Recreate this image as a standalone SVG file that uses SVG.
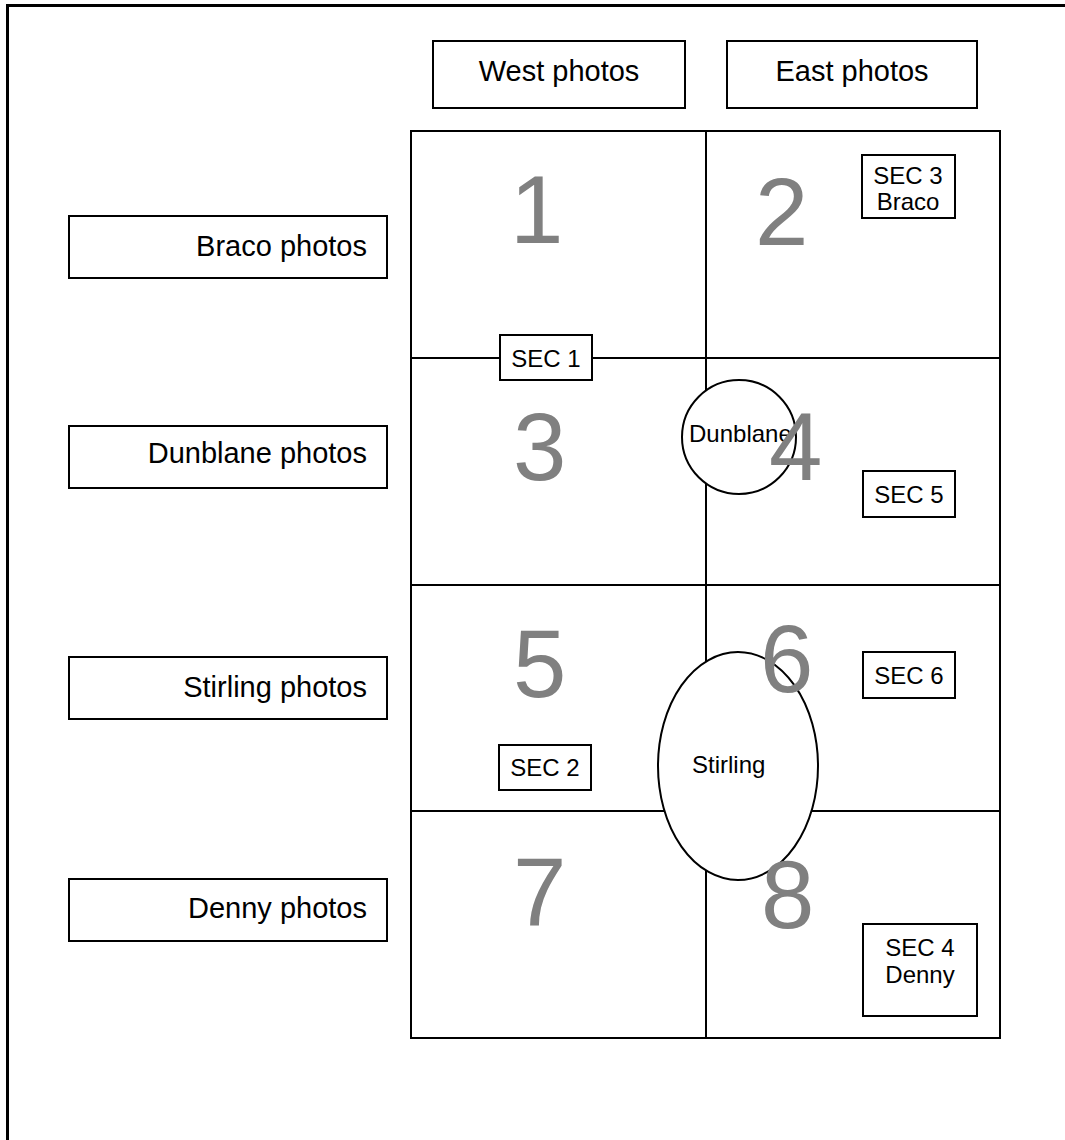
<svg xmlns="http://www.w3.org/2000/svg" width="1065" height="1140" viewBox="0 0 1065 1140">
<style>
.box{fill:#fff;stroke:#000;stroke-width:2}
.ln{fill:none;stroke:#000;stroke-width:2}
.big{font-family:"Liberation Sans",Arial,sans-serif;font-size:29px;fill:#000}
.sm{font-family:"Liberation Sans",Arial,sans-serif;font-size:24px;fill:#000}
.num{font-family:"Liberation Sans",Arial,sans-serif;font-size:96px;fill:#808080}
</style>
<rect width="1065" height="1140" fill="#fff"/>
<path d="M7.5,1140 V5.5 H1065" fill="none" stroke="#000" stroke-width="3"/>

<g id="grid">
<rect class="ln" x="411" y="131" width="589" height="907"/>
<line class="ln" x1="706" y1="131" x2="706" y2="1038"/>
<line class="ln" x1="411" y1="358" x2="1000" y2="358"/>
<line class="ln" x1="411" y1="585" x2="1000" y2="585"/>
<line class="ln" x1="411" y1="811" x2="1000" y2="811"/>
</g>

<g id="west-photos"><rect class="box" x="433" y="41" width="252" height="67"/><text class="big" x="559" y="81" text-anchor="middle">West photos</text></g>
<g id="east-photos"><rect class="box" x="727" y="41" width="250" height="67"/><text class="big" x="852" y="81" text-anchor="middle">East photos</text></g>

<g id="braco-photos"><rect class="box" x="69" y="216" width="318" height="62"/><text class="big" x="367" y="256" text-anchor="end">Braco photos</text></g>
<g id="dunblane-photos"><rect class="box" x="69" y="426" width="318" height="62"/><text class="big" x="367" y="463" text-anchor="end">Dunblane photos</text></g>
<g id="stirling-photos"><rect class="box" x="69" y="657" width="318" height="62"/><text class="big" x="367" y="697" text-anchor="end">Stirling photos</text></g>
<g id="denny-photos"><rect class="box" x="69" y="879" width="318" height="62"/><text class="big" x="367" y="918" text-anchor="end">Denny photos</text></g>

<g id="sec1"><rect class="box" x="500" y="335" width="92" height="45"/><text class="sm" x="546" y="367" text-anchor="middle">SEC 1</text></g>
<g id="sec3"><rect class="box" x="862" y="155" width="93" height="63"/><text class="sm" x="908" y="184" text-anchor="middle">SEC 3</text><text class="sm" x="908" y="210" text-anchor="middle">Braco</text></g>
<g id="sec5"><rect class="box" x="863" y="471" width="92" height="46"/><text class="sm" x="909" y="503" text-anchor="middle">SEC 5</text></g>
<g id="sec6"><rect class="box" x="863" y="652" width="92" height="46"/><text class="sm" x="909" y="684" text-anchor="middle">SEC 6</text></g>
<g id="sec2"><rect class="box" x="499" y="745" width="92" height="45"/><text class="sm" x="545" y="776" text-anchor="middle">SEC 2</text></g>
<g id="sec4"><rect class="box" x="863" y="924" width="114" height="92"/><text class="sm" x="920" y="956" text-anchor="middle">SEC 4</text><text class="sm" x="920" y="983" text-anchor="middle">Denny</text></g>

<g id="dunblane"><circle class="box" cx="739" cy="437" r="57"/><text class="sm" x="689" y="442">Dunblane</text></g>
<g id="stirling"><ellipse class="box" cx="738" cy="766" rx="80" ry="114"/><text class="sm" x="692" y="773">Stirling</text></g>

<g id="numbers">
<text class="num" x="510" y="243">1</text>
<text class="num" x="755" y="245">2</text>
<text class="num" x="513" y="480">3</text>
<text class="num" x="769" y="480">4</text>
<text class="num" x="513" y="697">5</text>
<text class="num" x="760" y="692">6</text>
<text class="num" x="513" y="925">7</text>
<text class="num" x="761" y="928">8</text>
</g>
</svg>
